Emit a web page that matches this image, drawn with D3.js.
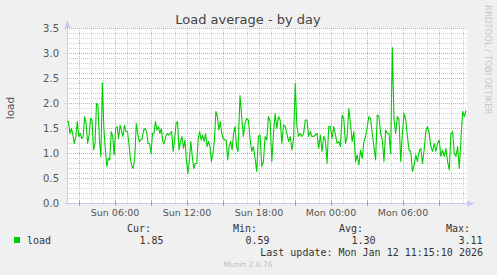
<!DOCTYPE html>
<html>
<head>
<meta charset="utf-8">
<script src="https://cdn.jsdelivr.net/npm/d3@7"></script>
<style>
  html, body { margin: 0; padding: 0; background: #f0f0f0; }
  svg { display: block; }
</style>
</head>
<body>
<script>
// chart size
var width = 497,
    height = 275;

// load readings, first stretch (Sun 02:00 - Sun 16:15)
var loadEarly = [1.63,1.63,1.39,1.49,1.36,1.19,1.33,1.63,1.33,1.39,
    1.29,1.33,1.73,1.59,1.19,1.36,1.69,1.66,1.06,1.19,
    1.99,1.96,1.26,0.93,2.40,1.49,1.09,0.73,0.89,0.86,
    1.43,1.33,0.96,1.49,1.53,1.29,1.56,1.43,1.33,1.56,
    1.43,1.43,1.19,0.89,0.73,0.69,0.93,1.59,1.39,1.23,
    1.26,1.29,1.46,1.49,1.43,1.19,1.19,0.99,1.39,1.39,
    1.63,1.46,1.53,1.39,1.49,1.23,1.19,1.33,1.39,1.36,
    1.39,1.43,1.03,1.26,1.59,1.63,1.06,1.23,1.33,1.09,
    1.26,0.86,0.59,0.86,1.23,0.93,0.69,0.79,0.79,1.29,
    1.43,1.26,1.36,1.23,1.39,1.13,1.23,1.13,0.83,0.99,
    1.26,1.83,1.73,1.46,1.63,1.39,1.29,1.26,1.26,0.86,
    1.13,1.23,1.06,1.39,1.53,1.13,1.03];

// second stretch (Sun 16:25 - Mon 11:15)
var loadLate = [2.15,1.73,1.33,1.59,1.69,1.66,1.29,1.03,1.13,0.89,
    0.63,1.33,1.36,0.73,0.83,1.33,1.26,1.73,1.63,0.83,
    1.39,1.79,1.49,1.73,1.66,1.19,1.56,1.53,1.39,1.23,
    1.33,1.06,1.29,2.39,1.53,1.33,1.39,1.33,1.39,1.66,
    1.66,1.33,1.43,1.33,1.33,1.36,1.39,1.09,1.36,1.03,
    1.33,1.26,0.79,1.53,1.53,1.29,1.53,1.36,1.19,1.23,
    1.13,1.76,1.69,1.19,1.33,1.89,1.59,1.23,1.43,0.83,
    0.96,0.76,1.06,0.89,1.23,1.33,1.53,1.73,1.69,1.39,
    1.13,0.86,1.76,1.73,1.39,1.26,0.83,1.46,1.39,1.39,
    0.99,3.11,1.66,1.39,1.73,1.66,0.83,1.39,1.79,1.66,
    1.33,1.06,1.03,0.63,0.76,0.96,0.83,1.03,1.09,0.79,
    1.06,1.43,1.53,1.39,1.13,1.03,1.19,1.03,1.19,1.26,
    0.93,1.06,0.93,1.09,0.83,0.66,1.39,1.43,0.99,0.93,
    1.13,0.69,1.29,1.83,1.73,1.85];

// time spans of the two stretches
var spanEarly = [new Date(2026, 0, 11, 2, 0), new Date(2026, 0, 11, 16, 15)];
var spanLate = [new Date(2026, 0, 11, 16, 25), new Date(2026, 0, 12, 11, 15)];

// x domain shown, y ticks
var timeDomain = [new Date(2026, 0, 11, 2, 0), new Date(2026, 0, 12, 11, 20)];
var yTicks = [0, 0.5, 1.0, 1.5, 2.0, 2.5, 3.0, 3.5];

// legend
var statNames = ["Cur:", "Min:", "Avg:", "Max:"];
var statValues = ["1.85", "0.59", "1.30", "3.11"];
var seriesName = "load";
var lastUpdate = "Last update: Mon Jan 12 11:15:10 2026";

// join the stretches into one series of {t, v}
function spread(vals, span) {
    var step = (span[1] - span[0]) / (vals.length - 1);
    return vals.map(function (v, i) {
        return { t: new Date(+span[0] + i * step), v: v };
    });
}
var series = spread(loadEarly, spanEarly).concat(spread(loadLate, spanLate));

var svg = d3.select("body")
    .append("svg")
    .attr("width", width)
    .attr("height", height)
    .style("font-family", "'DejaVu Sans', sans-serif");

svg.append("rect")
    .attr("width", width)
    .attr("height", height)
    .attr("fill", "#f0f0f0");

// scales
var x = d3.scaleTime().domain(timeDomain).range([67, 467]);
var y = d3.scaleLinear().domain([0, 3.5]).range([203, 28]);

// plot canvas
svg.append("rect")
    .attr("x", x.range()[0])
    .attr("y", y(3.5))
    .attr("width", x.range()[1] - x.range()[0])
    .attr("height", y(0) - y(3.5))
    .attr("fill", "#ffffff");

var grid = svg.append("g").attr("shape-rendering", "crispEdges");

// minor grid
var minorX = d3.timeHour.every(1).range(timeDomain[0], timeDomain[1]);
var minorY = d3.range(1, 35).map(function (d) { return d / 10; });

grid.selectAll("line.mx")
    .data(minorX)
    .enter()
    .append("line")
    .attr("x1", function (d) { return Math.round(x(d)) + 0.5; })
    .attr("x2", function (d) { return Math.round(x(d)) + 0.5; })
    .attr("y1", y(3.5))
    .attr("y2", y(0))
    .attr("stroke", "#d0d0d0")
    .attr("stroke-dasharray", "1,1");

grid.selectAll("line.my")
    .data(minorY)
    .enter()
    .append("line")
    .attr("x1", x.range()[0])
    .attr("x2", x.range()[1])
    .attr("y1", function (d) { return Math.round(y(d)) + 0.5; })
    .attr("y2", function (d) { return Math.round(y(d)) + 0.5; })
    .attr("stroke", "#d0d0d0")
    .attr("stroke-dasharray", "1,1");

// major grid
var majorX = d3.timeHour.every(3).range(timeDomain[0], timeDomain[1]);

grid.selectAll("line.Mx")
    .data(majorX)
    .enter()
    .append("line")
    .attr("x1", function (d) { return Math.round(x(d)) + 0.5; })
    .attr("x2", function (d) { return Math.round(x(d)) + 0.5; })
    .attr("y1", y(3.5))
    .attr("y2", y(0) + 2)
    .attr("stroke", "#eaa0a0")
    .attr("stroke-dasharray", "1,1");

grid.selectAll("line.My")
    .data(yTicks.slice(1))
    .enter()
    .append("line")
    .attr("x1", x.range()[0] - 2)
    .attr("x2", x.range()[1])
    .attr("y1", function (d) { return Math.round(y(d)) + 0.5; })
    .attr("y2", function (d) { return Math.round(y(d)) + 0.5; })
    .attr("stroke", "#eaa0a0")
    .attr("stroke-dasharray", "1,1");

// axes lines with arrow heads
var axisColor = "#c8c8f5";
svg.append("line")
    .attr("x1", 67.5).attr("x2", 67.5)
    .attr("y1", y(0) + 1).attr("y2", 23)
    .attr("stroke", axisColor);
svg.append("line")
    .attr("x1", 65).attr("x2", 472)
    .attr("y1", 203.5).attr("y2", 203.5)
    .attr("stroke", axisColor);
svg.append("path")
    .attr("d", "M64.5,28 L67.5,20 L70.5,28 Z")
    .attr("fill", axisColor);
svg.append("path")
    .attr("d", "M467,200.5 L475,203.5 L467,206.5 Z")
    .attr("fill", axisColor);

// red ticks on x axis
svg.selectAll("line.xt")
    .data(majorX)
    .enter()
    .append("line")
    .attr("x1", function (d) { return Math.round(x(d)) + 0.5; })
    .attr("x2", function (d) { return Math.round(x(d)) + 0.5; })
    .attr("y1", 201)
    .attr("y2", 206)
    .attr("stroke", "#f08080");

// y tick labels
svg.selectAll("text.yl")
    .data(yTicks)
    .enter()
    .append("text")
    .attr("x", 59)
    .attr("y", function (d) { return y(d) + 3.5; })
    .attr("text-anchor", "end")
    .attr("font-size", 10)
    .attr("fill", "#555")
    .text(function (d) { return d.toFixed(1); });

// x tick labels every 6 hours
var labelX = d3.timeHour.every(6).range(timeDomain[0], timeDomain[1]);
var fmt = d3.timeFormat("%a %H:%M");
svg.selectAll("text.xl")
    .data(labelX)
    .enter()
    .append("text")
    .attr("x", function (d) { return x(d); })
    .attr("y", 216)
    .attr("text-anchor", "middle")
    .attr("font-size", 9.5)
    .attr("fill", "#555")
    .text(function (d) { return fmt(d); });

// the load line
var line = d3.line()
    .x(function (d) { return x(d.t); })
    .y(function (d) { return y(d.v); });

svg.append("path")
    .datum(series)
    .attr("d", line)
    .attr("fill", "none")
    .attr("stroke", "#00cc00")
    .attr("stroke-width", 1.1)
    .attr("stroke-linejoin", "round");

// title
svg.append("text")
    .attr("x", 248)
    .attr("y", 24)
    .attr("text-anchor", "middle")
    .attr("font-size", 13)
    .attr("fill", "#444")
    .text("Load average - by day");

// y axis label
svg.append("text")
    .attr("transform", "translate(14,108) rotate(-90)")
    .attr("text-anchor", "middle")
    .attr("font-size", 10.5)
    .attr("fill", "#555")
    .text("load");

// rrdtool watermark
svg.append("text")
    .attr("transform", "translate(485,5) rotate(90)")
    .attr("font-size", 8.5)
    .attr("fill", "#c8c8c8")
    .text("RRDTOOL / TOBI OETIKER");

// legend
var legend = svg.append("g")
    .style("font-family", "'DejaVu Sans Mono', monospace")
    .attr("font-size", 10)
    .attr("fill", "#333");

var statRight = [151, 257, 363, 470];

legend.selectAll("text.sn")
    .data(statNames)
    .enter()
    .append("text")
    .attr("x", function (d, i) { return statRight[i]; })
    .attr("y", 232)
    .attr("text-anchor", "end")
    .text(function (d) { return d; });

legend.selectAll("text.sv")
    .data(statValues)
    .enter()
    .append("text")
    .attr("x", function (d, i) { return statRight[i] + 12.5; })
    .attr("y", 244)
    .attr("text-anchor", "end")
    .text(function (d) { return d; });

legend.append("rect")
    .attr("x", 14)
    .attr("y", 237)
    .attr("width", 6)
    .attr("height", 6)
    .attr("fill", "#00cc00");

legend.append("text")
    .attr("x", 27)
    .attr("y", 244)
    .text(seriesName);

legend.append("text")
    .attr("x", 483)
    .attr("y", 256)
    .attr("text-anchor", "end")
    .text(lastUpdate);

svg.append("text")
    .attr("x", 248)
    .attr("y", 267)
    .attr("text-anchor", "middle")
    .attr("font-size", 7.5)
    .attr("fill", "#bdbdbd")
    .text("Munin 2.0.76");
</script>
</body>
</html>
